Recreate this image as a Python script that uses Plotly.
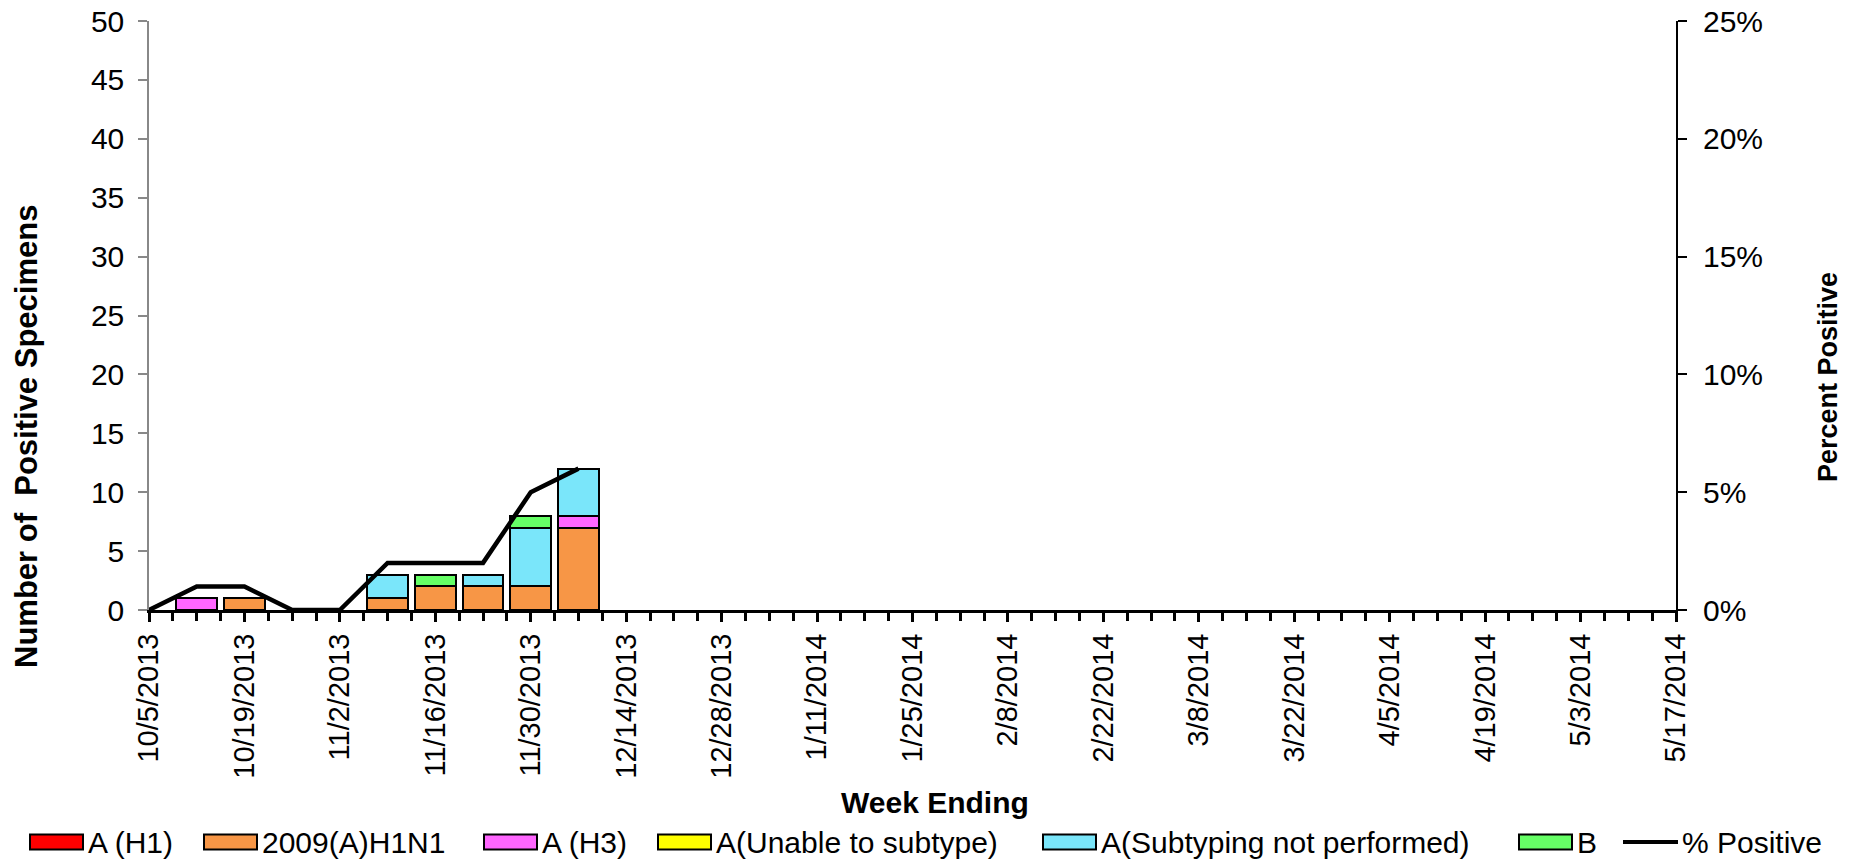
import plotly.graph_objects as go

# ---------------- data ----------------
weeks = ["10/5/2013", "10/12/2013", "10/19/2013", "10/26/2013", "11/2/2013", "11/9/2013",
         "11/16/2013", "11/23/2013", "11/30/2013", "12/7/2013", "12/14/2013", "12/21/2013",
         "12/28/2013", "1/4/2014", "1/11/2014", "1/18/2014", "1/25/2014", "2/1/2014",
         "2/8/2014", "2/15/2014", "2/22/2014", "3/1/2014", "3/8/2014", "3/15/2014",
         "3/22/2014", "3/29/2014", "4/5/2014", "4/12/2014", "4/19/2014", "4/26/2014",
         "5/3/2014", "5/10/2014", "5/17/2014"]

a_h1 = [0, 0, 0, 0, 0, 0, 0, 0, 0, 0]
h1n1_2009 = [0, 0, 1, 0, 0, 1, 2, 2, 2, 7]
a_h3 = [0, 1, 0, 0, 0, 0, 0, 0, 0, 1]
a_unable = [0, 0, 0, 0, 0, 0, 0, 0, 0, 0]
a_not_performed = [0, 0, 0, 0, 0, 2, 0, 1, 5, 4]
b_vals = [0, 0, 0, 0, 0, 0, 1, 0, 1, 0]
pct_positive = [0, 1, 1, 0, 0, 2, 2, 2, 5, 6]  # percent

series_names = ["A (H1)", "2009(A)H1N1", "A (H3)", "A(Unable to subtype)",
                "A(Subtyping not performed)", "B"]
series_values = [a_h1, h1n1_2009, a_h3, a_unable, a_not_performed, b_vals]
series_colors = ["#FF0000", "#F79646", "#FF66FF", "#FFFF00", "#7AE6FA", "#66FF66"]
line_name = "% Positive"

# ---------------- layout geometry ----------------
FW, FH = 1855, 862
# plot area in page pixels
P_LEFT, P_RIGHT, P_TOP, P_BOTTOM = 149, 1676, 21, 610
L = P_LEFT
R = FW - P_RIGHT
T = P_TOP
B = FH - P_BOTTOM
PW, PH = P_RIGHT - P_LEFT, P_BOTTOM - P_TOP

def px_x(px):
    return (px - P_LEFT) / PW

def px_y(py):
    return (P_BOTTOM - py) / PH

FONT = "Liberation Sans, Arial, Helvetica, sans-serif"

xs = list(range(len(weeks)))

fig = go.Figure()
for name, vals, col in zip(series_names, series_values, series_colors):
    full = vals + [0] * (len(weeks) - len(vals))
    fig.add_trace(go.Bar(
        x=xs, y=[v if v else None for v in full], name=name,
        marker=dict(color=col, line=dict(color="black", width=2)),
        width=0.85, showlegend=False, yaxis="y",
    ))

fig.add_trace(go.Scatter(
    x=xs[:len(pct_positive)], y=[p / 100 for p in pct_positive], name=line_name,
    mode="lines", line=dict(color="black", width=4.5), yaxis="y2", showlegend=False,
))

fig.update_layout(
    width=FW, height=FH,
    margin=dict(l=L, r=R, t=T, b=B, autoexpand=False),
    barmode="stack", bargap=0,
    plot_bgcolor="white", paper_bgcolor="white",
    font=dict(family=FONT, color="black", size=28),
    xaxis=dict(
        range=[0, len(weeks) - 1],
        tickmode="array",
        tickvals=xs[::2],
        ticktext=weeks[::2],
        tickangle=-90,
        tickfont=dict(size=29),
        ticks="outside", ticklen=9, tickwidth=2.5, tickcolor="black",
        minor=dict(ticks="outside", tickmode="linear", tick0=0, dtick=0.5,
                   ticklen=8, tickwidth=2.5, tickcolor="black"),
        showline=True, linecolor="black", linewidth=3,
        showgrid=False, zeroline=False, ticklabeloverflow="allow",
    ),
    yaxis=dict(
        range=[0, 50], dtick=5, tick0=0,
        tickfont=dict(size=30),
        ticks="outside", ticklen=9, tickwidth=1.5, tickcolor="#888888",
        showline=True, linecolor="#888888", linewidth=1.5,
        showgrid=False, zeroline=False, ticklabelstandoff=8,
        ticklabeloverflow="allow",
    ),
    yaxis2=dict(
        range=[0, 0.25], dtick=0.05, tick0=0, tickformat=".0%",
        overlaying="y", side="right",
        tickfont=dict(size=30),
        ticks="outside", ticklen=9, tickwidth=1.5, tickcolor="black",
        showline=True, linecolor="black", linewidth=2,
        showgrid=False, zeroline=False, ticklabelstandoff=10,
        ticklabeloverflow="allow",
    ),
)

annotations = [
    dict(text="<b>Number of  Positive Specimens</b>", x=px_x(26), y=px_y(437),
         textangle=-90, font=dict(size=31)),
    dict(text="<b>Percent Positive</b>", x=px_x(1828), y=px_y(377),
         textangle=-90, font=dict(size=27)),
    dict(text="<b>Week Ending</b>", x=px_x(935), y=px_y(803), font=dict(size=30)),
]
for a in annotations:
    a.update(xref="paper", yref="paper", showarrow=False, xanchor="center", yanchor="middle")

# custom legend
legend_y = 842
box_starts = [30, 204, 484, 658, 1043, 1519]
shapes = []
for name, col, x0 in zip(series_names, series_colors, box_starts):
    shapes.append(dict(type="rect", xref="paper", yref="paper",
                       x0=px_x(x0), x1=px_x(x0 + 53), y0=px_y(legend_y + 7.5), y1=px_y(legend_y - 7.5),
                       fillcolor=col, line=dict(color="black", width=2)))
    annotations.append(dict(text=name, x=px_x(x0 + 56), y=px_y(legend_y), xref="paper", yref="paper",
                            showarrow=False, xanchor="left", yanchor="middle", font=dict(size=30)))
shapes.append(dict(type="line", xref="paper", yref="paper",
                   x0=px_x(1623), x1=px_x(1678), y0=px_y(legend_y), y1=px_y(legend_y),
                   line=dict(color="black", width=4)))
annotations.append(dict(text=line_name, x=px_x(1680), y=px_y(legend_y), xref="paper", yref="paper",
                        showarrow=False, xanchor="left", yanchor="middle", font=dict(size=30)))

fig.update_layout(annotations=annotations, shapes=shapes)
fig.write_html("out.html",
               config={"displayModeBar": False},
               post_script="document.body.style.margin='0px';document.body.style.overflow='hidden';")
